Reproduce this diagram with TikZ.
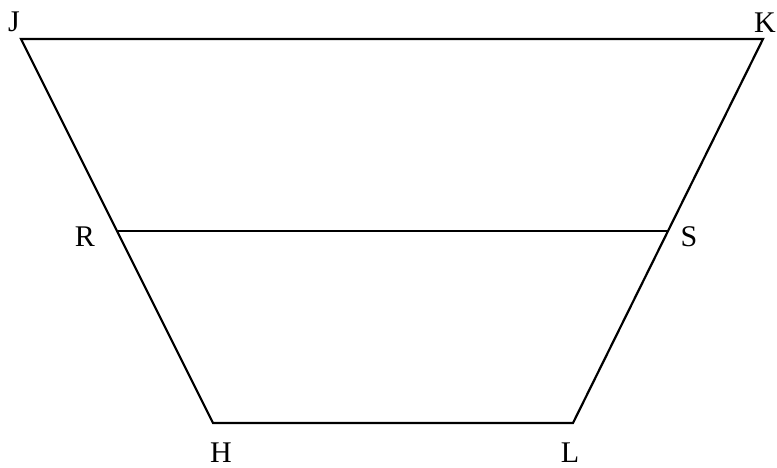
\documentclass[tikz,border=0pt]{standalone}
\usepackage{fontspec}
\setmainfont{Liberation Serif}
\usetikzlibrary{positioning,calc}

\begin{document}
\begin{tikzpicture}[
  x=1pt, y=1pt,
  edge/.style={draw, line width=2.2pt, line join=miter},
  vlabel/.style={font=\fontsize{30}{34}\selectfont, inner sep=0pt}
]
\useasboundingbox (0,0) rectangle (777,468);

% vertices
\coordinate (J) at (21,429);
\coordinate (K) at (763,429);
\coordinate (H) at (213,45);
\coordinate (L) at (573,45);
\coordinate (R) at ($(J)!0.5!(H)$);
\coordinate (S) at ($(K)!0.5!(L)$);

% labels
\node[vlabel] (labJ) at (14,446) {J};
\node[vlabel] (labK) at (765,445) {K};
\node[vlabel] (labR) at (85,231) {R};
\node[vlabel] (labS) at (689,231) {S};
\node[vlabel] (labH) at (221,15) {H};
\node[vlabel] (labL) at (570,15) {L};

\draw[edge] (J) -- (K) -- (L) -- (H) -- cycle;
\draw[edge] (R) -- (S);
\end{tikzpicture}
\end{document}
